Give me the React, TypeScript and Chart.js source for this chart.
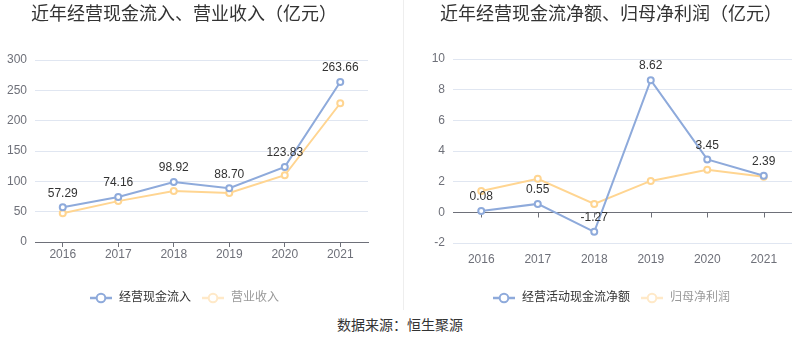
import React, { useEffect, useRef } from "react";
import { Chart, registerables } from "chart.js";

Chart.register(...registerables);

const years = ["2016", "2017", "2018", "2019", "2020", "2021"];
const cashInflow = [57.29, 74.16, 98.92, 88.7, 123.83, 263.66];
const revenue = [47.5, 67.4, 84.0, 80.7, 110.0, 228.7];
const netCashFlow = [0.08, 0.55, -1.27, 8.62, 3.45, 2.39];
const netProfit = [1.39, 2.19, 0.55, 2.05, 2.78, 2.32];

const leftTitle = "近年经营现金流入、营业收入（亿元）";
const rightTitle = "近年经营现金流净额、归母净利润（亿元）";
const leftLabels = ["经营现金流入", "营业收入"];
const rightLabels = ["经营活动现金流净额", "归母净利润"];
const sourceText = "数据来源：恒生聚源";

const BLUE = "#8eaadb";
const ORANGE = "#ffd591";
const ORANGE_FADED = "#ffe9c8";
const GRID = "#e0e6f1";
const AXIS = "#6e7079";
const FONT = "'Liberation Sans', Arial, 'Noto Sans CJK SC', sans-serif";

function makeIcon(color: string): HTMLCanvasElement {
  const c = document.createElement("canvas");
  c.width = 22;
  c.height = 12;
  const ctx = c.getContext("2d")!;
  ctx.strokeStyle = color;
  ctx.lineWidth = 2.5;
  ctx.beginPath();
  ctx.moveTo(0, 6);
  ctx.lineTo(22, 6);
  ctx.stroke();
  ctx.beginPath();
  ctx.arc(11, 6, 4.3, 0, Math.PI * 2);
  ctx.fillStyle = "#fff";
  ctx.fill();
  ctx.lineWidth = 2;
  ctx.stroke();
  return c;
}

const valueLabelPlugin = {
  id: "valueLabels",
  afterDatasetsDraw(chart: any) {
    const meta = chart.getDatasetMeta(0);
    const data = chart.data.datasets[0].data as number[];
    const ctx = chart.ctx;
    ctx.save();
    ctx.font = `12px ${FONT}`;
    ctx.fillStyle = "#333";
    ctx.textAlign = "center";
    ctx.textBaseline = "middle";
    meta.data.forEach((pt: any, i: number) => {
      ctx.fillText(data[i].toFixed(2), pt.x, pt.y - 14);
    });
    ctx.restore();
  },
};

const zeroAxisPlugin = {
  id: "zeroAxis",
  beforeDatasetsDraw(chart: any) {
    const opts = chart.options.plugins.zeroAxis;
    if (!opts || !opts.enabled) return;
    const { ctx, chartArea, scales } = chart;
    const y0 = Math.round(scales.y.getPixelForValue(0)) + 0.5;
    ctx.save();
    ctx.strokeStyle = AXIS;
    ctx.lineWidth = 1;
    ctx.beginPath();
    ctx.moveTo(chartArea.left, y0);
    ctx.lineTo(chartArea.right, y0);
    chart.data.labels.forEach((_: any, i: number) => {
      const x = Math.round(scales.x.getPixelForValue(i)) + 0.5;
      ctx.moveTo(x, y0);
      ctx.lineTo(x, y0 + 5);
    });
    ctx.stroke();
    ctx.restore();
  },
};

function buildConfig(opts: {
  title: string;
  labels: string[];
  a: number[];
  b: number[];
  min: number;
  max: number;
  step: number;
  yWidth: number;
  padRight: number;
  titleBottom: number;
  xHeight: number;
  zero: boolean;
}): any {
  return {
    type: "line",
    data: {
      labels: years,
      datasets: [
        {
          label: opts.labels[0],
          data: opts.a,
          borderColor: BLUE,
          backgroundColor: "#fff",
          borderWidth: 2,
          pointRadius: 3,
          pointBorderWidth: 2,
          pointBackgroundColor: "#fff",
          pointBorderColor: BLUE,
          tension: 0,
        },
        {
          label: opts.labels[1],
          data: opts.b,
          borderColor: ORANGE,
          backgroundColor: "#fff",
          borderWidth: 2,
          pointRadius: 3,
          pointBorderWidth: 2,
          pointBackgroundColor: "#fff",
          pointBorderColor: ORANGE,
          tension: 0,
        },
      ],
    },
    options: {
      animation: false,
      responsive: false,
      maintainAspectRatio: false,
      layout: { padding: { left: 0, right: opts.padRight, top: 0, bottom: 0 } },
      plugins: {
        zeroAxis: { enabled: opts.zero },
        tooltip: { enabled: false },
        title: {
          display: true,
          text: opts.title,
          color: "#333",
          font: { family: FONT, size: 18, weight: "normal" },
          padding: { top: 4.7, bottom: opts.titleBottom },
        },
        legend: {
          display: true,
          position: "bottom",
          onClick: () => {},
          labels: {
            usePointStyle: true,
            pointStyleWidth: 24,
            padding: 10,
            font: { family: FONT, size: 12 },
            generateLabels: (chart: any) =>
              chart.data.datasets.map((ds: any, i: number) => ({
                text: ds.label,
                pointStyle: makeIcon(i === 0 ? BLUE : ORANGE_FADED),
                fontColor: i === 0 ? "#333" : "#999",
                fillStyle: "transparent",
                strokeStyle: "transparent",
                lineWidth: 0,
                hidden: false,
                datasetIndex: i,
              })),
          },
        },
      },
      scales: {
        x: {
          offset: true,
          border: { display: !opts.zero, color: AXIS },
          grid: {
            display: !opts.zero,
            drawOnChartArea: false,
            drawTicks: true,
            tickLength: 5,
            color: AXIS,
            offset: false,
          },
          ticks: {
            color: AXIS,
            font: { family: FONT, size: 12 },
            padding: opts.zero ? 4.8 : 0.8,
            maxRotation: 0,
          },
          afterFit: (scale: any) => {
            scale.height = opts.xHeight;
          },
        },
        y: {
          min: opts.min,
          max: opts.max,
          border: { display: false },
          grid: {
            color: (c: any) => (c.tick && c.tick.value === 0 && !opts.zero ? AXIS : GRID),
            drawTicks: false,
          },
          ticks: {
            stepSize: opts.step,
            color: AXIS,
            padding: 8,
            font: { family: FONT, size: 12 },
          },
          afterFit: (scale: any) => {
            scale.width = opts.yWidth;
          },
        },
      },
    },
    plugins: [valueLabelPlugin, zeroAxisPlugin],
  };
}

function ChartBox(props: { config: any; left: number; width: number; height: number }) {
  const ref = useRef<HTMLCanvasElement>(null);
  useEffect(() => {
    const chart = new Chart(ref.current!, props.config);
    return () => chart.destroy();
  }, []);
  return (
    <canvas
      ref={ref}
      width={props.width}
      height={props.height}
      style={{ position: "absolute", left: props.left, top: 0, width: props.width, height: props.height }}
    />
  );
}

export default function App() {
  useEffect(() => {
    document.body.style.margin = "0";
  }, []);
  const leftConfig = buildConfig({
    title: leftTitle,
    labels: leftLabels,
    a: cashInflow,
    b: revenue,
    min: 0,
    max: 300,
    step: 50,
    yWidth: 35,
    padRight: 10,
    titleBottom: 33.7,
    xHeight: 40,
    zero: false,
  });
  const rightConfig = buildConfig({
    title: rightTitle,
    labels: rightLabels,
    a: netCashFlow,
    b: netProfit,
    min: -2,
    max: 10,
    step: 2,
    yWidth: 23,
    padRight: 8,
    titleBottom: 32.7,
    xHeight: 39,
    zero: true,
  });
  return (
    <div style={{ position: "absolute", left: 0, top: 0, width: 800, height: 358, background: "#fff", overflow: "hidden" }}>
      <ChartBox config={leftConfig} left={0} width={378} height={314} />
      <ChartBox config={rightConfig} left={430} width={370} height={314} />
      <div style={{ position: "absolute", left: 403, top: 0, width: 1, height: 310, background: "#eeeeee" }} />
      <div
        style={{
          position: "absolute",
          left: 0,
          top: 315,
          width: 800,
          textAlign: "center",
          fontFamily: FONT,
          fontSize: 14,
          lineHeight: "20px",
          color: "#333",
        }}
      >
        {sourceText}
      </div>
    </div>
  );
}
